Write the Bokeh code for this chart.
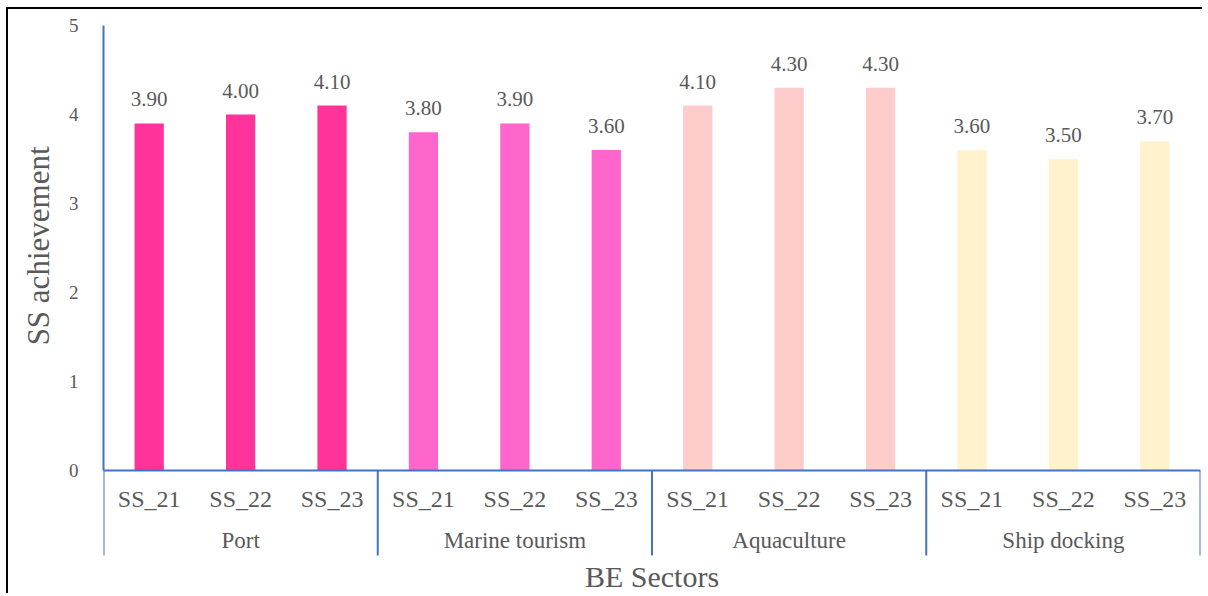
from bokeh.plotting import figure
from bokeh.models import Range1d, LinearAxis, FixedTicker, Title, ColumnDataSource, Span
from bokeh.embed import file_html
from bokeh.resources import INLINE
from bokeh.core.properties import value

# ---- data -------------------------------------------------------------
sectors = ["Port", "Marine tourism", "Aquaculture", "Ship docking"]
periods = ["SS_21", "SS_22", "SS_23"]
port = [3.9, 4.0, 4.1]
marine_tourism = [3.8, 3.9, 3.6]
aquaculture = [4.1, 4.3, 4.3]
ship_docking = [3.6, 3.5, 3.7]
sector_colors = ["#FF3399", "#FF66CC", "#FFCCCC", "#FFF2CC"]
y_ticks = [0, 1, 2, 3, 4, 5]
y_title = "SS achievement"
x_title = "BE Sectors"

series = [port, marine_tourism, aquaculture, ship_docking]
n_per = len(periods)
n_bars = n_per * len(sectors)

# ---- styling ----------------------------------------------------------
FONT = "Liberation Serif"
TEXT = "#595959"
AXIS_BLUE = "#4472C4"

# canvas / frame geometry (pixels)
W, H = 1196, 586
FRAME_TOP, ZERO_PX = 25, 470          # y pixel of the top tick and of zero
UNIT_PX = (ZERO_PX - FRAME_TOP) / y_ticks[-1]
FRAME_BOTTOM = 9 + H
y_start = -(FRAME_BOTTOM - ZERO_PX) / UNIT_PX
SEP_DEPTH = 85                       # how far group separators reach below zero

# ---- build columns ----------------------------------------------------
xs, tops, colors, per_labels, val_labels = [], [], [], [], []
for g, (vals, col) in enumerate(zip(series, sector_colors)):
    for k, (per, v) in enumerate(zip(periods, vals)):
        xs.append(g * n_per + k + 0.5)
        tops.append(v)
        colors.append(col)
        per_labels.append(per)
        val_labels.append(f"{v:.2f}")

bars = ColumnDataSource(dict(x=xs, top=tops, color=colors, per=per_labels, lab=val_labels))
group_x = [g * n_per + n_per / 2 for g in range(len(sectors))]
sep_x = [g * n_per for g in range(len(sectors) + 1)]

p = figure(
    width=W, height=H,
    x_range=Range1d(0, n_bars), y_range=Range1d(y_start, y_ticks[-1]),
    x_axis_location=None, y_axis_location=None,
    output_backend="svg", toolbar_location=None,
    min_border_left=95, min_border_right=4, min_border_top=16, min_border_bottom=0,
    margin=(7, 0, 0, 6),
    styles={"border-top": "2px solid #000000", "border-left": "2px solid #000000"},
    outline_line_color=None,
    background_fill_color="white", border_fill_color="white",
)
p.grid.visible = False

# y axis
yaxis = LinearAxis(
    ticker=FixedTicker(ticks=y_ticks), bounds=(0, y_ticks[-1]),
    axis_line_color=AXIS_BLUE, axis_line_width=2,
    major_tick_line_color=None, minor_tick_line_color=None,
    major_tick_out=0, major_tick_in=0, major_label_standoff=25,
    major_label_text_font=FONT, major_label_text_font_size="19px",
    major_label_text_color=TEXT,
)
p.add_layout(yaxis, "left")
p.add_layout(Title(text=y_title, align="right", offset=121, standoff=20,
                   text_font=FONT, text_font_size="31px", text_font_style="normal",
                   text_color=TEXT), "left")

# bars
p.vbar(x="x", top="top", bottom=0, width=0.32, color="color", line_color=None, source=bars)

# zero line and group separators
p.add_layout(Span(location=0, dimension="width", line_color=AXIS_BLUE, line_width=2))
p.segment(x0=sep_x, y0=[0] * len(sep_x), x1=sep_x,
          y1=[-SEP_DEPTH / UNIT_PX] * len(sep_x), line_color=AXIS_BLUE, line_width=2)

# value labels
p.text(x="x", y="top", text="lab", source=bars, text_align="center", text_baseline="bottom",
       y_offset=-17, text_font=value(FONT), text_font_size="21px", text_color=TEXT)

# period labels, sector labels and x title
p.text(x="x", y=0, text="per", source=bars, text_align="center", text_baseline="middle",
       y_offset=28, text_font=value(FONT), text_font_size="24px", text_color=TEXT)
p.text(x=group_x, y=[0] * len(group_x), text=sectors, text_align="center", text_baseline="middle",
       y_offset=70, text_font=value(FONT), text_font_size="23px", text_color=TEXT)
p.text(x=[n_bars / 2], y=[0], text=[x_title], text_align="center", text_baseline="middle",
       y_offset=106, text_font=value(FONT), text_font_size="30px", text_color=TEXT)

open("out.html", "w").write(file_html(p, INLINE))
